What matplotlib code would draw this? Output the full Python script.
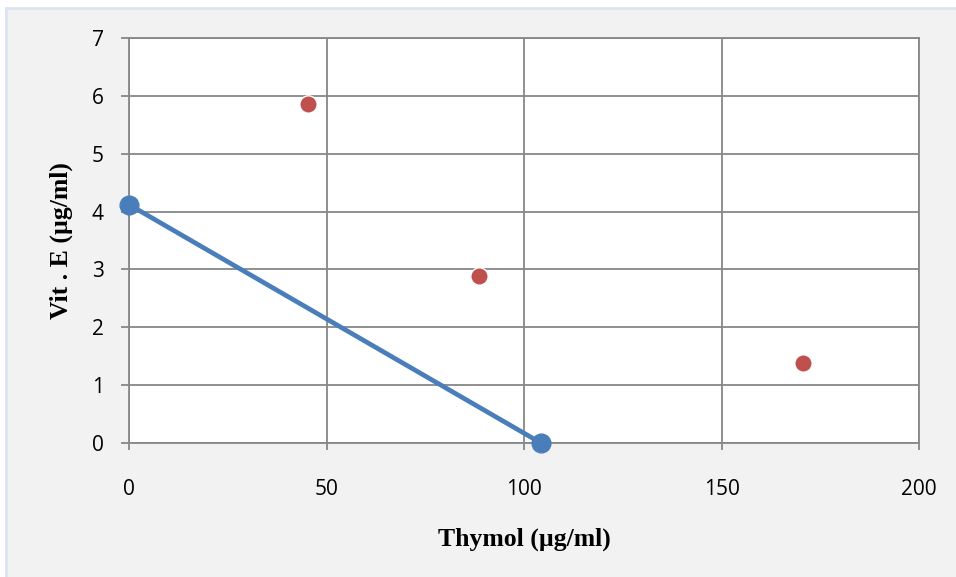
import matplotlib
matplotlib.use("Agg")
import matplotlib.pyplot as plt
from matplotlib.patches import Rectangle

# regression line and measured points
line_x = [0, 104.3]
line_y = [4.12, 0]
pts_x = [45.3, 88.7, 170.7]
pts_y = [5.86, 2.88, 1.38]

x_ticks = [0, 50, 100, 150, 200]
y_ticks = [0, 1, 2, 3, 4, 5, 6, 7]

BLUE = "#4a7ebb"
RED = "#c0504d"
GRID = "#878787"

W, H = 956, 577
fig = plt.figure(figsize=(W / 100, H / 100), dpi=100, facecolor="white")

# chart-area panel, kept behind the axes
panel = Rectangle((6 / W, -0.01), 1.0, 1.01 - 8 / H, transform=fig.transFigure,
                  facecolor="#f2f2f2", edgecolor="#dbe5f1", linewidth=2)
panel.set_zorder(-10)
fig.add_artist(panel)

ax = fig.add_axes([129 / W, 1 - 443 / H, (919 - 129) / W, (443 - 38) / H])
ax.set_zorder(1)
ax.set_facecolor("white")
ax.set_xlim(0, 200)
ax.set_ylim(0, 7)
ax.set_xticks(x_ticks)
ax.set_yticks(y_ticks)
ax.grid(True, color=GRID, linewidth=1.3)
ax.set_axisbelow(True)
for side in ("left", "bottom", "right", "top"):
    ax.spines[side].set_color(GRID)
    ax.spines[side].set_linewidth(1.3)
ax.tick_params(axis="both", colors=GRID, width=1.3, labelcolor="black",
               labelsize=15)
ax.tick_params(axis="y", length=6, pad=12)
ax.tick_params(axis="x", length=5, pad=21)
for lab in ax.get_xticklabels() + ax.get_yticklabels():
    lab.set_family("Open Sans")

ax.plot(line_x, line_y, color=BLUE, linewidth=3.4, marker="o", markersize=13.5,
        markerfacecolor=BLUE, markeredgecolor=BLUE, clip_on=False, zorder=3)
ax.plot(pts_x, pts_y, linestyle="none", marker="o", markersize=12.5,
        markerfacecolor=RED, markeredgecolor="white", markeredgewidth=1,
        clip_on=False, zorder=3)

ax.set_xlabel("Thymol (µg/ml)", family="Liberation Serif", fontweight="bold",
              fontsize=18.5, labelpad=20)
ax.set_ylabel("Vit . E (µg/ml)", family="Liberation Serif", fontweight="bold",
              fontsize=18.5, labelpad=14)

fig.savefig("out.png", dpi=100, facecolor=fig.get_facecolor())
